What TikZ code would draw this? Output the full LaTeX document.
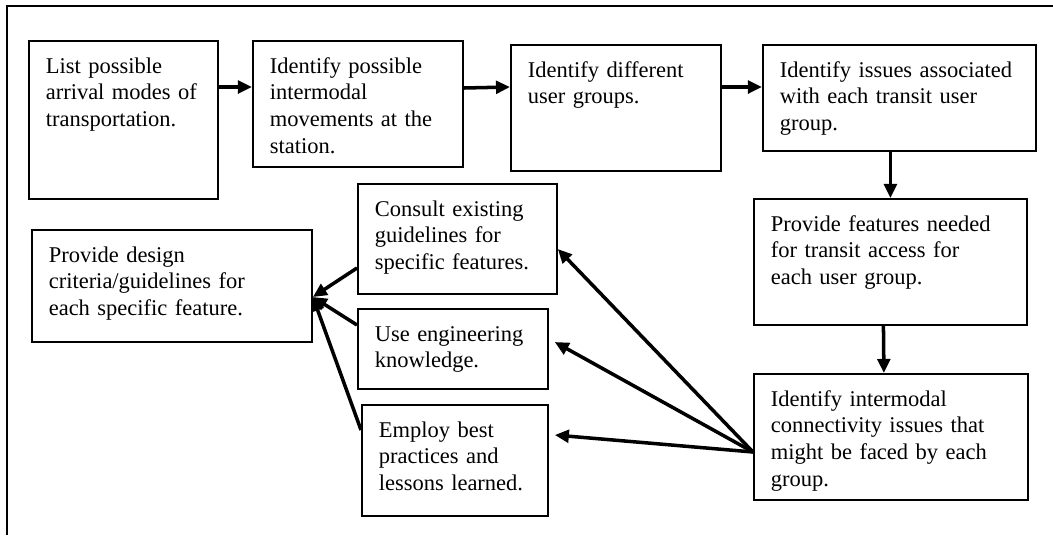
\documentclass[tikz,border=0pt]{standalone}
\usepackage{fontspec}
\setmainfont{Liberation Serif}
\usetikzlibrary{arrows.meta,calc}

\begin{document}
\begin{tikzpicture}[x=0.7113pt, y=-0.7113pt,
    stepbox/.style={draw, line width=1.3pt, anchor=north west, align=left,
      inner xsep=12pt, inner ysep=11.4pt, text height=11.5pt,
      font=\fontsize{16}{19}\selectfont},
    flow/.style={line width=2.5pt, -{Triangle[length=10pt,width=9pt]}}]
  \useasboundingbox (0,0) rectangle (1053,535);
  % frame
  \draw[line width=1.3pt] (7,535) -- (7,6) -- (1053,6);

  % top row
  \node[stepbox, text width=110.4pt, text depth=78.1pt] (b1) at (28,40)
    {List possible\\arrival modes of\\transportation.};
  \node[stepbox, text width=125.4pt, text depth=55.3pt] (b2) at (252,40)
    {Identify possible\\intermodal\\movements at the\\station.};
  \node[stepbox, text width=125.4pt, text depth=55.3pt] (b3) at (510,44)
    {Identify different\\user groups.};
  \node[stepbox, text width=170.2pt, text depth=41.1pt] (b4) at (762,44)
    {Identify issues associated\\with each transit user\\group.};

  % right column
  \node[stepbox, text width=170.2pt, text depth=55.3pt] (b5) at (753,198)
    {Provide features needed\\for transit access for\\each user group.};
  \node[stepbox, text width=170.9pt, text depth=55.3pt] (b6) at (753,373)
    {Identify intermodal\\connectivity issues that\\might be faced by each\\group.};

  % middle column
  \node[stepbox, text width=117.5pt, text depth=43.9pt] (b7) at (357,183)
    {Consult existing\\guidelines for\\specific features.};
  \node[stepbox, text width=111.1pt, text depth=22.6pt] (b8) at (357,308)
    {Use engineering\\knowledge.};
  \node[stepbox, text width=108.3pt, text depth=44.7pt] (b9) at (361,404)
    {Employ best\\practices and\\lessons learned.};

  % left
  \node[stepbox, text width=175.2pt, text depth=45.4pt] (b10) at (31,229)
    {Provide design\\criteria/guidelines for\\each specific feature.};

  % flow along the top and down
  \draw[flow] ($(b1.north east)+(0,47)$) -- ($(b2.north west)+(0,47)$);
  \draw[flow] ($(b2.north east)+(0,48)$) -- ($(b3.north west)+(0,43)$);
  \draw[flow] ($(b3.north east)+(0,43)$) -- ($(b4.north west)+(0,43)$);
  \draw[flow] (b4.south -| b5.north) -- (b5.north);
  \draw[flow] ($(b5.south)+(-7,0)$) -- ($(b6.north)+(-7,0)$);

  % fan out and back in
  \coordinate (fan) at ($(b6.north west)+(0,79)$);
  \coordinate (hub) at ($(b10.north east)+(0,68)$);
  \draw[flow] (fan) -- ($(b7.north east)+(0,66)$);
  \draw[flow] (fan) -- ($(b8.north east)+(6,34)$);
  \draw[flow] (fan) -- ($(b9.north east)+(6,31)$);
  \draw[flow] ($(b7.north west)+(0,85)$) -- (hub);
  \draw[flow] ($(b8.north west)+(0,17)$) -- (hub);
  \draw[flow] ($(b9.north west)+(0,26)$) -- (hub);
\end{tikzpicture}
\end{document}
